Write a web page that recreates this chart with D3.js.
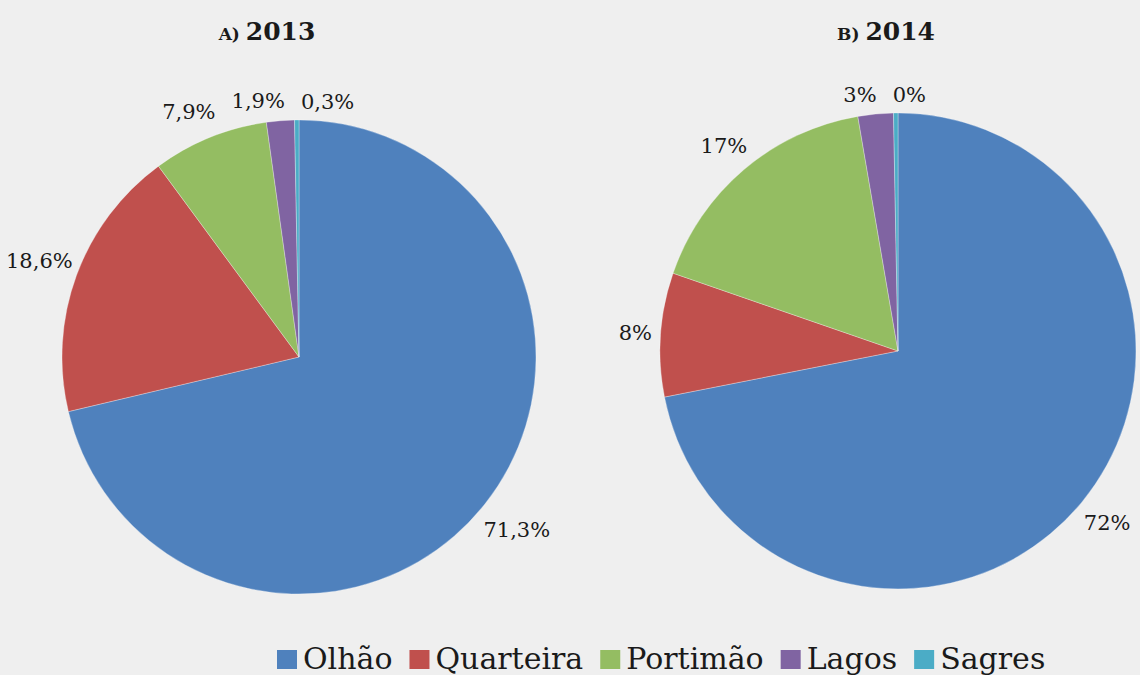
<!DOCTYPE html>
<html>
<head>
<meta charset="utf-8">
<script src="https://cdn.jsdelivr.net/npm/d3@7"></script>
<style>
  body { margin: 0; background: #efefef; }
  svg { font-family: "DejaVu Serif", "Liberation Serif", serif; }
</style>
</head>
<body>
<svg id="chart" width="1140" height="675"></svg>
<script>
/*=================
=== The data
=================*/
var ports = ['Olhão', 'Quarteira', 'Portimão', 'Lagos', 'Sagres'];
var colors = ['#4f81bd', '#c0504d', '#94bd62', '#8064a2', '#4bacc6'];

var values2013 = [71.3, 18.6, 7.9, 1.9, 0.3];
var labels2013 = ['71,3%', '18,6%', '7,9%', '1,9%', '0,3%'];

// slice sizes as drawn; the labels are the rounded ones printed
var values2014 = [71.9, 8.4, 17.0, 2.4, 0.3];
var labels2014 = ['72%', '8%', '17%', '3%', '0%'];

var charts = [
	{ prefix: 'A)', year: '2013', values: values2013, labels: labels2013, cx: 299, cy: 357, r: 237, titleX: 267 },
	{ prefix: 'B)', year: '2014', values: values2014, labels: labels2014, cx: 898, cy: 351, r: 238, titleX: 886 }
];

var svg = d3.select('#chart');
var color = d3.scaleOrdinal().domain(ports).range(colors);

var pie = d3.pie().sort(null).value(function (d) { return d.value; });

var labelSize = 21;

charts.forEach(function (c) {
	var data = ports.map(function (p, i) { return { name: p, value: c.values[i], label: c.labels[i] }; });
	var arcs = pie(data);

	var arc = d3.arc().innerRadius(0).outerRadius(c.r);

	var g = svg.append('g')
		.attr('transform', 'translate(' + c.cx + ',' + c.cy + ')');

	g.selectAll('path')
		.data(arcs)
		.enter()
		.append('path')
		.attr('d', arc)
		.attr('fill', function (d) { return color(d.data.name); })
		.attr('stroke', '#ffffff')
		.attr('stroke-opacity', 0.5)
		.attr('stroke-width', 0.6);

	var texts = g.selectAll('text.lbl')
		.data(arcs)
		.enter()
		.append('text')
		.attr('class', 'lbl')
		.attr('text-anchor', 'middle')
		.attr('dy', '0.36em')
		.style('font-size', labelSize + 'px')
		.style('fill', '#1a1a1a')
		.text(function (d) { return d.data.label; });

	// outside-end labels: push the box out along the mid angle, then spread crowded ones
	var pos = arcs.map(function (d, i) {
		var a = (d.startAngle + d.endAngle) / 2;
		var w = texts.nodes()[i].getComputedTextLength();
		var h = labelSize;
		var dist = c.r + 8 + Math.abs(Math.sin(a)) * w / 2 + Math.abs(Math.cos(a)) * h / 2;
		return { x: Math.sin(a) * dist, y: -Math.cos(a) * dist, w: w };
	});
	for (var k = 0; k < 20; k++) {
		for (var i = 0; i < pos.length; i++) {
			for (var j = i + 1; j < pos.length; j++) {
				var a = pos[i], b = pos[j];
				var dx = b.x - a.x, dy = b.y - a.y;
				var needX = (a.w + b.w) / 2 + 16;
				if (Math.abs(dy) < labelSize && Math.abs(dx) < needX) {
					var push = (needX - Math.abs(dx)) / 2;
					var s = dx >= 0 ? 1 : -1;
					a.x -= s * push;
					b.x += s * push;
				}
			}
		}
	}
	// keep labels inside the picture
	pos.forEach(function (p) {
		var left = c.cx + p.x - p.w / 2, right = c.cx + p.x + p.w / 2;
		if (left < 6) p.x += 6 - left;
		if (right > 1137) p.x -= right - 1137;
	});
	texts
		.attr('x', function (d, i) { return pos[i].x; })
		.attr('y', function (d, i) { return pos[i].y; });

	// title
	var title = svg.append('text')
		.attr('x', c.titleX)
		.attr('y', 40)
		.attr('text-anchor', 'middle')
		.style('font-weight', 'bold')
		.style('fill', '#1a1a1a');
	title.append('tspan').style('font-size', '17px').text(c.prefix + ' ');
	title.append('tspan').style('font-size', '25px').text(c.year);
});

/*=================
=== Legend
=================*/
var legend = svg.append('g').attr('class', 'legend');
var lx = 277;
ports.forEach(function (p) {
	legend.append('rect')
		.attr('x', lx)
		.attr('y', 650)
		.attr('width', 20)
		.attr('height', 19)
		.attr('fill', color(p));
	var t = legend.append('text')
		.attr('x', lx + 26)
		.attr('y', 669)
		.style('font-size', '30px')
		.style('fill', '#1a1a1a')
		.text(p);
	lx += 26 + t.node().getComputedTextLength() + 17;
});
</script>
</body>
</html>
